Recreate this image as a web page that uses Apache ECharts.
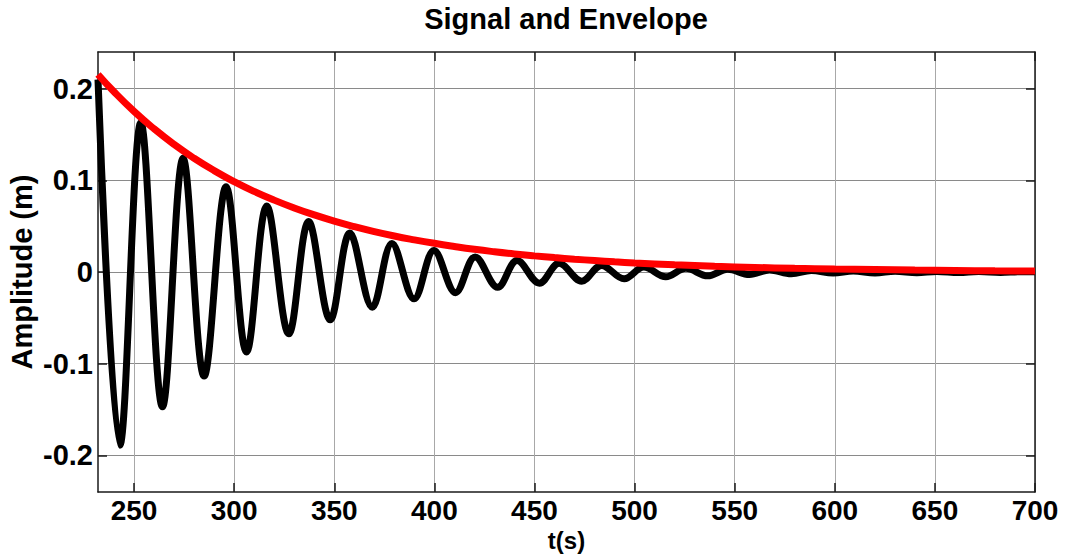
<!DOCTYPE html>
<html><head><meta charset="utf-8">
<script src="https://cdn.jsdelivr.net/npm/echarts@6/dist/echarts.min.js"></script>
<style>html,body{margin:0;padding:0;background:#fff}#c{width:1065px;height:558px}</style>
</head><body><div id="c"></div>
<script>
const chartTitle = 'Signal and Envelope';
const xName = 't(s)';
const yName = 'Amplitude (m)';
const xTicks = [250, 300, 350, 400, 450, 500, 550, 600, 650, 700];
const yTicks = [-0.2, -0.1, 0, 0.1, 0.2];

// Signal: successive peaks and troughs
const signalT = [232.0, 242.9, 253.4, 264.2, 274.5, 285.0, 296.0, 306.2, 316.3, 327.3,
  337.2, 348.0, 357.8, 369.0, 378.8, 389.9, 399.8, 410.6, 420.4, 431.6,
  441.3, 452.5, 462.3, 473.6, 483.5, 494.8, 504.6, 515.6, 525.6, 536.5,
  546.5, 557.4, 567.4, 578.3, 588.3, 599.2, 609.2, 620.1, 630.1, 641.0,
  651.0, 661.9, 671.9, 682.8, 692.8, 700.0];
const signalV = [0.21, -0.189, 0.163, -0.147, 0.124, -0.1135, 0.093, -0.0874, 0.072, -0.0674,
  0.055, -0.0522, 0.0425, -0.0385, 0.031, -0.0293, 0.0235, -0.0225, 0.0165, -0.0167,
  0.0125, -0.0122, 0.0095, -0.0100, 0.0072, -0.0074, 0.0055, -0.0052, 0.0040, -0.0042,
  0.0030, -0.0028, 0.0022, -0.0020, 0.0016, -0.0012, 0.0011, -0.0010, 0.0008, -0.0008,
  0.0006, -0.0006, 0.0005, -0.0005, 0.0004, 0.0002];

// Envelope
const envelopeT = [232, 240, 250, 260, 270, 280, 290, 300, 310, 320, 330, 340, 350, 360, 370,
  380, 390, 400, 410, 420, 430, 440, 450, 460, 470, 480, 490, 500, 520, 540, 560, 580, 600,
  620, 640, 660, 680, 700];
const envelopeV = [0.2155, 0.1966, 0.1752, 0.1562, 0.1392, 0.1241, 0.1106, 0.0986, 0.0879, 0.0784,
  0.0699, 0.0623, 0.0555, 0.0495, 0.0441, 0.0393, 0.0351, 0.0313, 0.0279, 0.0248, 0.0221,
  0.0197, 0.0176, 0.0157, 0.0140, 0.0125, 0.0111, 0.0099, 0.0079, 0.0062, 0.0050, 0.0040,
  0.0032, 0.0026, 0.0021, 0.0017, 0.0013, 0.0011];

const FONT = '"Liberation Sans", Arial, Helvetica, sans-serif';
const AX = '#1a1a1a';
const chart = echarts.init(document.getElementById('c'), null, {renderer: 'svg'});

function xAxisDef(position, main) {
  return {
    type: 'value', position: position, min: 232, max: 700,
    name: main ? xName : '', nameLocation: 'middle', nameGap: 36, nameMoveOverlap: false,
    nameTextStyle: {fontFamily: FONT, fontSize: 24, fontWeight: 'bold', color: '#000'},
    axisLine: {show: true, onZero: false, lineStyle: {color: AX, width: 1.5}},
    axisTick: {show: true, inside: true, length: 9, customValues: xTicks, lineStyle: {color: AX, width: 1.5}},
    axisLabel: {show: main, customValues: xTicks, margin: 4, fontFamily: FONT, fontSize: 28, fontWeight: 'bold', color: '#000'},
    splitLine: {show: main, lineStyle: {color: '#a8a8a8', width: 1}}
  };
}
function yAxisDef(position, main) {
  return {
    type: 'value', position: position, min: -0.24, max: 0.24,
    name: main ? yName : '', nameLocation: 'middle', nameGap: 62, nameRotate: 90, nameMoveOverlap: false,
    nameTextStyle: {fontFamily: FONT, fontSize: 29, fontWeight: 'bold', color: '#000'},
    axisLine: {show: true, onZero: false, lineStyle: {color: AX, width: 1.5}},
    axisTick: {show: true, inside: true, length: 9, customValues: yTicks, lineStyle: {color: AX, width: 1.5}},
    axisLabel: {show: main, customValues: yTicks, margin: 5, fontFamily: FONT, fontSize: 29, fontWeight: 'bold', color: '#000'},
    splitLine: {show: main, lineStyle: {color: '#8a8a8a', width: 1}}
  };
}

const option = {
  animation: false,
  backgroundColor: '#fff',
  title: {text: chartTitle, left: 566, top: 4, padding: 0, textAlign: 'center',
    textStyle: {fontFamily: FONT, fontSize: 29, fontWeight: 'bold', color: '#000'}},
  grid: {left: 98, top: 52, width: 937, height: 440, show: false, containLabel: false, outerBoundsMode: 'none'},
  xAxis: [xAxisDef('bottom', true), xAxisDef('top', false)],
  yAxis: [yAxisDef('left', true), yAxisDef('right', false)],
  series: [
    {type: 'line', name: 'Signal', xAxisIndex: 0, yAxisIndex: 0, showSymbol: false, smooth: 0.36,
     data: signalT.map((t, i) => [t, signalV[i]]),
     lineStyle: {color: '#000', width: 7, join: 'round', cap: 'butt'}},
    {type: 'line', name: 'Envelope', xAxisIndex: 0, yAxisIndex: 0, showSymbol: false, smooth: true,
     data: envelopeT.map((t, i) => [t, envelopeV[i]]),
     lineStyle: {color: '#ff0000', width: 7, cap: 'butt'}}
  ]
};
chart.setOption(option);
</script></body></html>
